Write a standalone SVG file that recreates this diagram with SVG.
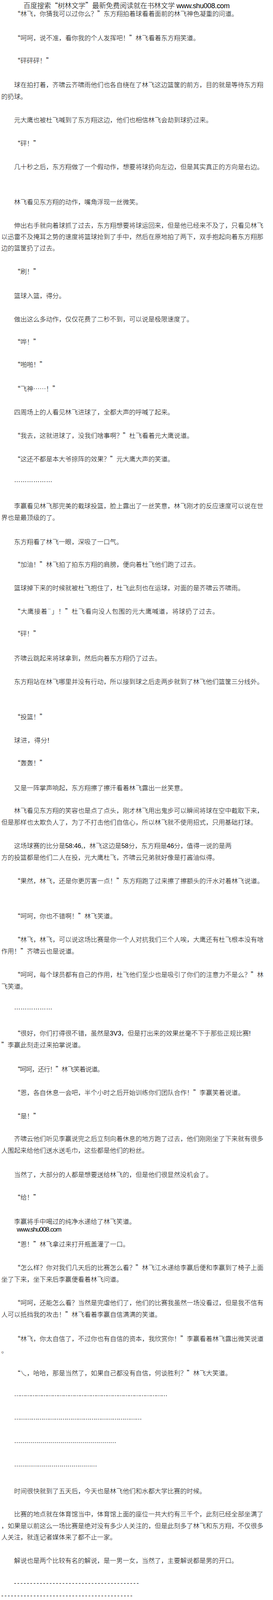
<svg xmlns="http://www.w3.org/2000/svg" width="700" height="4484" viewBox="0 0 700 4484">
<style>
.t{font-family:"Liberation Sans","Noto Sans CJK SC",sans-serif;font-size:16.4px;font-weight:300;fill:#000}
.q{font-family:"Noto Sans CJK SC","Liberation Sans",sans-serif;font-feature-settings:"fwid"}
.a{font-family:"Liberation Sans","Noto Sans CJK SC",sans-serif;font-feature-settings:normal}
.h{font-size:18px}
</style>
<rect x="0" y="0" width="700" height="4484" fill="#fff"/>
<g id="header-top"><text class="t h" x="60" y="21" textLength="529" lengthAdjust="spacing">百度搜索<tspan class="q">“</tspan>树林文学<tspan class="q">”</tspan>最新免费阅读就在书林文学 www.shu008.com</text></g>
<g id="body">
<text class="t q" x="36" y="41" textLength="574" lengthAdjust="spacing">“林飞，你猜我可以过你么？”东方翔拍着球看着面前的林飞神色凝重的问道。</text>
<text class="t q" x="36" y="103" textLength="475.6" lengthAdjust="spacing">“呵呵，说不准，看你我的个人发挥吧！”林飞看着东方翔笑道。</text>
<text class="t q" x="36" y="161" textLength="98.4" lengthAdjust="spacing">“砰砰砰！”</text>
<text class="t" x="36" y="223">球在拍打着，齐啸云齐啸雨他们也各自绕在了林飞这边篮筐的前方，目的就是等待东方翔</text>
<text class="t" x="3.2" y="253">的扔球。</text>
<text class="t" x="36" y="313">元大鹰也被杜飞喊到了东方翔这边，他们也相信林飞会劫到球扔过来。</text>
<text class="t q" x="36" y="373" textLength="65.6" lengthAdjust="spacing">“砰！”</text>
<text class="t" x="36" y="433">几十秒之后，东方翔做了一个假动作，想要将球扔向左边，但是其实真正的方向是右边。</text>
<text class="t" x="36" y="523">林飞看见东方翔的动作，嘴角浮现一丝微笑。</text>
<text class="t" x="36" y="583">伸出右手就向着球抓了过去，东方翔想要将球运回来，但是他已经来不及了，只看见林飞</text>
<text class="t" x="3.2" y="612">以迅雷不及掩耳之势的速度将篮球抢到了手中，然后在原地拍了两下，双手抱起向着东方翔那</text>
<text class="t" x="3.2" y="641">边的篮筐扔了过去。</text>
<text class="t q" x="36" y="701" textLength="65.6" lengthAdjust="spacing">“刷！”</text>
<text class="t" x="36" y="763">篮球入篮，得分。</text>
<text class="t" x="36" y="823">做出这么多动作，仅仅花费了二秒不到，可以说是极限速度了。</text>
<text class="t q" x="36" y="881" textLength="65.6" lengthAdjust="spacing">“哗！”</text>
<text class="t q" x="36" y="939" textLength="82" lengthAdjust="spacing">“啪啪！”</text>
<text class="t q" x="36" y="1001" textLength="114.8" lengthAdjust="spacing">“飞神……！”</text>
<text class="t" x="36" y="1061">四周场上的人看见林飞进球了，全都大声的呼喊了起来。</text>
<text class="t q" x="36" y="1121" textLength="459.2" lengthAdjust="spacing">“我去，这就进球了，没我们啥事啊？”杜飞看着元大鹰说道。</text>
<text class="t q" x="36" y="1181" textLength="410" lengthAdjust="spacing">“这还不都是本大爷掠阵的效果？”元大鹰大声的笑道。</text>
<text class="t" x="36" y="1234" textLength="98.4" lengthAdjust="spacing">………………</text>
<text class="t" x="36" y="1301">李赢看见林飞那完美的截球投篮，脸上露出了一丝笑意，林飞刚才的反应速度可以说在世</text>
<text class="t" x="3.2" y="1331">界也是最顶级的了。</text>
<text class="t" x="36" y="1393">东方翔看了林飞一眼，深吸了一口气。</text>
<text class="t q" x="36" y="1451" textLength="475.6" lengthAdjust="spacing">“加油！”林飞拍了拍东方翔的肩膀，便向着杜飞他们跑了过去。</text>
<text class="t" x="36" y="1511">篮球掉下来的时候就被杜飞抱住了，杜飞此刻也在运球，对面的是齐啸云齐啸雨。</text>
<text class="t q" x="36" y="1571" textLength="524.8" lengthAdjust="spacing">“大鹰接着¨」！”杜飞看向没人包围的元大鹰喊道，将球扔了过去。</text>
<text class="t q" x="36" y="1628" textLength="65.6" lengthAdjust="spacing">“砰！”</text>
<text class="t" x="36" y="1691">齐啸云跳起来将球拿到，然后向着东方翔仍了过去。</text>
<text class="t" x="36" y="1751">东方翔站在林飞哪里并没有行动，所以接到球之后走两步就到了林飞他们篮筐三分线外。</text>
<text class="t q" x="36" y="1841" textLength="82" lengthAdjust="spacing">“投篮！”</text>
<text class="t" x="36" y="1901" textLength="90.2" lengthAdjust="spacing">球进，得分!</text>
<text class="t q" x="36" y="1959" textLength="82" lengthAdjust="spacing">“轰轰！”</text>
<text class="t" x="36" y="2023">又是一阵掌声响起，东方翔擦了擦汗看着林飞露出一丝笑意。</text>
<text class="t" x="36" y="2081">林飞看见东方翔的笑容也是点了点头，刚才林飞用出鬼步可以瞬间将球在空中截取下来，</text>
<text class="t" x="3.2" y="2111">但是那样也太欺负人了，为了不打击他们自信心，所以林飞就不使用招式，只用基础打球。</text>
<text class="t" x="36" y="2171" textLength="557.6" lengthAdjust="spacing">这场球赛的比分是58:46,，林飞这边是58分，东方翔是46分，值得一说的是两</text>
<text class="t" x="3.2" y="2201">方的投篮都是他们二人在投，元大鹰杜飞，齐啸云兄弟就好像是打酱油似得。</text>
<text class="t q" x="36" y="2261" textLength="639.6" lengthAdjust="spacing">“果然，林飞，还是你更厉害一点！”东方翔跑了过来擦了擦额头的汗水对着林飞说道。</text>
<text class="t q" x="36" y="2351" textLength="262.4" lengthAdjust="spacing">“呵呵，你也不错啊！”林飞笑道。</text>
<text class="t q" x="36" y="2411" textLength="639.6" lengthAdjust="spacing">“林飞，林飞，可以说这场比赛是你一个人对抗我们三个人唉，大鹰还有杜飞根本没有啥</text>
<text class="t q" x="3.2" y="2441" textLength="196.8" lengthAdjust="spacing">作用！”齐啸云也是说道。</text>
<text class="t q" x="36" y="2501" textLength="639.6" lengthAdjust="spacing">“呵呵，每个球员都有自己的作用，杜飞他们至少也是吸引了你们的注意力不是么？”林</text>
<text class="t" x="3.2" y="2531">飞笑道。</text>
<text class="t" x="36" y="2584" textLength="98.4" lengthAdjust="spacing">………………</text>
<text class="t q" x="36" y="2651" textLength="606.8" lengthAdjust="spacing">“很好，你们打得很不错，虽然是<tspan class="a">3V3</tspan>，但是打出来的效果丝毫不下于那些正规比赛<tspan class="a">!</tspan></text>
<text class="t q" x="3.2" y="2681" textLength="213.2" lengthAdjust="spacing">”李赢此刻走过来拍掌说道。</text>
<text class="t q" x="36" y="2743" textLength="229.6" lengthAdjust="spacing">“呵呵，还行！”林飞笑着说道。</text>
<text class="t q" x="36" y="2803" textLength="590.4" lengthAdjust="spacing">“恩，各自休息一会吧，半个小时之后开始训练你们团队合作！”李赢笑着说道。</text>
<text class="t q" x="36" y="2863" textLength="65.6" lengthAdjust="spacing">“是！”</text>
<text class="t" x="36" y="2921">齐啸云他们听见李赢说完之后立刻向着休息的地方跑了过去，他们刚刚坐了下来就有很多</text>
<text class="t" x="3.2" y="2951">人围起来给他们送水送毛巾，这些都是他们的粉丝。</text>
<text class="t" x="36" y="3013">当然了，大部分的人都是想要送给林飞的，但是他们很显然没机会了。</text>
<text class="t q" x="36" y="3071" textLength="65.6" lengthAdjust="spacing">“给！”</text>
<text class="t" x="36" y="3133">李赢将手中喝过的纯净水递给了林飞笑道。</text>
<text class="t" x="43" y="3153" textLength="114.8" lengthAdjust="spacing">www.shu008.com</text>
<text class="t q" x="36" y="3191" textLength="295.2" lengthAdjust="spacing">“恩！”林飞拿过来打开瓶盖灌了一口。</text>
<text class="t q" x="36" y="3251" textLength="639.6" lengthAdjust="spacing">“怎么样？你对我们几天后的比赛怎么看？”林飞江水递给李赢后便和李赢到了椅子上面</text>
<text class="t" x="3.2" y="3281">坐了下来，坐下来后李赢便看着林飞问道。</text>
<text class="t q" x="36" y="3341" textLength="639.6" lengthAdjust="spacing">“呵呵，还能怎么看？当然是完虐他们了，他们的比赛我虽然一场没看过，但是我不信有</text>
<text class="t q" x="3.2" y="3371" textLength="410" lengthAdjust="spacing">人可以抵挡我的攻击！”林飞看着李赢自信满满的笑道。</text>
<text class="t q" x="36" y="3433" textLength="639.6" lengthAdjust="spacing">“林飞，你太自信了，不过你也有自信的资本，我欣赏你！”李赢看着林飞露出微笑说道</text>
<text class="t" x="3.2" y="3463">。</text>
<text class="t q" x="36" y="3521" textLength="557.6" lengthAdjust="spacing">“乀，哈哈，那是当然了，如果自己都没有自信，何谈胜利？”林飞大笑道。</text>
<text class="t" x="36" y="3574" textLength="393.6" lengthAdjust="spacing">…………………………………………………………………………</text>
<text class="t" x="36" y="3634" textLength="328" lengthAdjust="spacing">…………………………………………………………</text>
<text class="t" x="36" y="3694" textLength="262.4" lengthAdjust="spacing">……………………………………………</text>
<text class="t" x="36" y="3754" textLength="213.2" lengthAdjust="spacing">……………………………………</text>
<text class="t" x="36" y="3823">时间很快就到了五天后，今天也是林飞他们和水都大学比赛的时候。</text>
<text class="t" x="36" y="3882">比赛的地点就在体育馆当中，体育馆上面的座位一共大约有三千个，此刻已经全部坐满了</text>
<text class="t" x="3.2" y="3912">，如果是以前这么一场比赛是绝对没有多少人关注的，但是此刻多了林飞和东方翔，不仅很多</text>
<text class="t" x="3.2" y="3941">人关注，就连记者媒体来了都不止一家。</text>
<text class="t" x="36" y="4001">解说也是两个比较有名的解说，是一男一女，当然了，主要解说都是男的开口。</text>
<text class="t" x="36" y="4057.5" textLength="319.8" lengthAdjust="spacing">---------------------------------------</text>
<text class="t" x="3.2" y="4089.5" textLength="336.2" lengthAdjust="spacing">-----------------------------------------</text>
<text class="t" x="3.2" y="4119.5" textLength="336.2" lengthAdjust="spacing">-----------------------------------------</text>
<text class="t" x="3.2" y="4149.5" textLength="336.2" lengthAdjust="spacing">-----------------------------------------</text>
<text class="t" x="3.2" y="4179.5" textLength="336.2" lengthAdjust="spacing">-----------------------------------------</text>
<text class="t" x="3.2" y="4209.5" textLength="336.2" lengthAdjust="spacing">-----------------------------------------</text>
<text class="t" x="3.2" y="4239.5" textLength="336.2" lengthAdjust="spacing">-----------------------------------------</text>
<text class="t" x="3.2" y="4271" textLength="574" lengthAdjust="spacing">------------（第四更送上罗，哈哈，求大家多多支持下毛驴，鲜花，月票都给</text>
<text class="t" x="3.2" y="4301">毛驴扔过来吧！）</text>
<text class="t" x="3.2" y="4363" textLength="344.4" lengthAdjust="spacing">飞卢提醒您：读书三件事 - 收藏、推荐、分享!</text>
<text class="t" x="3.2" y="4421" textLength="483.8" lengthAdjust="spacing">支持飞卢小说网(http://b.faloo.com)原创作品，尽享阅读的喜悦!</text>
</g>
<g id="header-bottom"><text class="t h" x="60" y="4474" textLength="529" lengthAdjust="spacing">百度搜索<tspan class="q">“</tspan>树林文学<tspan class="q">”</tspan>最新免费阅读就在书林文学 www.shu008.com</text></g>
</svg>
